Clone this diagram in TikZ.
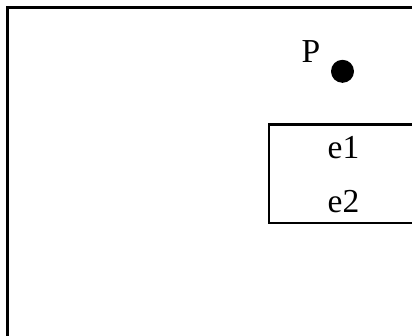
\documentclass[tikz,border=0pt]{standalone}
\usepackage{fontspec}
\setmainfont{Liberation Serif}
\begin{document}
\begin{tikzpicture}[x=1pt,y=-1pt,
  lbl/.style={inner sep=0pt, anchor=base, font=\fontsize{33.5}{33.5}\selectfont},
  frame/.style={line width=3.4pt},
  boxst/.style={draw, line width=2.6pt, inner sep=0pt, minimum width=171pt, minimum height=98.5pt},
  dot/.style={circle, fill=black, inner sep=0pt, minimum size=23pt}]
\useasboundingbox (0,0) rectangle (412,335);
\clip (0,0) rectangle (412,335);
\coordinate (fbl) at (7.5,345);
\coordinate (ftl) at (7.5,7.5);
\coordinate (ftr) at (425,7.5);
\draw[frame] (fbl) -- (ftl) -- (ftr);
\node[boxst] (box) at (354.5,173.75) {};
\node[lbl] (p) at (311,62.7) {P};
\node[dot] (pt) at (342.5,71.3) {};
\node[lbl] (e1) at (343.5,158) {e1};
\node[lbl] (e2) at (343.5,212.7) {e2};
\end{tikzpicture}
\end{document}
